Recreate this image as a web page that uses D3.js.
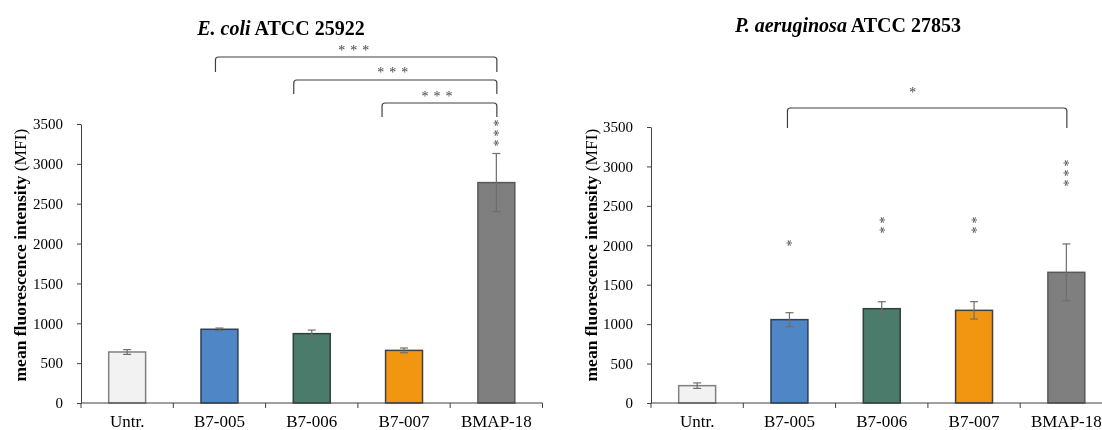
<!DOCTYPE html>
<html><head><meta charset="utf-8">
<script src="https://cdn.jsdelivr.net/npm/d3@7"></script>
<style>body{margin:0;background:#fff} svg{will-change:transform}</style>
</head><body><svg id="c" width="1102" height="430"></svg>
<script>
// ---- data ----
const categories = ["Untr.", "B7-005", "B7-006", "B7-007", "BMAP-18"];
const ecoliMean = [640, 925, 870, 660, 2765];
const ecoliErr  = [30, 15, 45, 30, 365];
const paeruMean = [220, 1057, 1196, 1175, 1657];
const paeruErr  = [35, 88, 88, 110, 360];
const yTicks = [0, 500, 1000, 1500, 2000, 2500, 3000, 3500];
const ecoliSig = ["", "", "", "", "***"];
const paeruSig = ["", "*", "**", "**", "***"];
const ecoliBrackets = [
  {from: "B7-005", to: "BMAP-18", label: "***"},
  {from: "B7-006", to: "BMAP-18", label: "***"},
  {from: "B7-007", to: "BMAP-18", label: "***"}
];
const paeruBrackets = [
  {from: "B7-005", to: "BMAP-18", label: "*"}
];
const barColors = ["#f2f2f2", "#4f86c6", "#4b7b6b", "#f29511", "#7f7f7f"];
const barStrokes = ["#808080", "#2f3f55", "#2f3f3a", "#404040", "#595959"];

// ---- layout ----
const FONT = "'Liberation Serif','Times New Roman',serif";
const svg = d3.select("#c");

const panels = [
  {title: ["E. coli", " ATCC 25922"], titleX: 281, titleY: 35,
   x0: 81, x1: 542.5, yTop: 124, yBot: 403, ylabX: 20,
   mean: ecoliMean, err: ecoliErr, sig: ecoliSig, sigTop: [0,0,0,0,123],
   brackets: ecoliBrackets,
   bLayout: [{dl: -4, top: 57, bot: 72, ly: 48}, {dl: -18, top: 80, bot: 94, ly: 70}, {dl: -22, top: 103, bot: 117, ly: 94}]},
  {title: ["P. aeruginosa", " ATCC 27853"], titleX: 848, titleY: 32,
   x0: 651, x1: 1112.5, yTop: 127, yBot: 403, ylabX: 591,
   mean: paeruMean, err: paeruErr, sig: paeruSig, sigTop: [0,243,220,220,163],
   brackets: paeruBrackets,
   bLayout: [{dl: -2, top: 108, bot: 128, ly: 90, lx: -12}]}
];

panels.forEach(p => {
  const g = svg.append("g");
  const x = d3.scaleBand().domain(categories).range([p.x0, p.x1]).paddingInner(0).paddingOuter(0);
  const y = d3.scaleLinear().domain([0, 3500]).range([p.yBot, p.yTop]);
  const bw = x.bandwidth();
  const barW = bw * 0.4;
  const cx = c => x(c) + bw / 2;

  // y axis
  const yAxis = d3.axisLeft(y).tickValues(yTicks).tickFormat(d3.format("d"))
    .tickSize(4).tickPadding(14).tickSizeOuter(0);
  const ya = g.append("g").attr("transform", `translate(${p.x0},0)`).call(yAxis);
  ya.select(".domain").attr("stroke", "#404040").attr("stroke-width", 1);
  ya.selectAll(".tick line").attr("stroke", "#404040");
  ya.selectAll(".tick text").attr("font-family", FONT).attr("font-size", 15).attr("fill", "#000");

  // bars
  g.selectAll("rect.bar").data(categories).enter().append("rect")
    .attr("x", c => cx(c) - barW / 2)
    .attr("y", (c, i) => y(p.mean[i]))
    .attr("width", barW)
    .attr("height", (c, i) => y(0) - y(p.mean[i]))
    .attr("fill", (c, i) => barColors[i])
    .attr("stroke", (c, i) => barStrokes[i])
    .attr("stroke-width", 1.5);

  // error bars
  const eb = g.selectAll("g.eb").data(categories).enter().append("g").attr("stroke", "#6e6e6e").attr("stroke-width", 1.2);
  eb.append("line").attr("x1", cx).attr("x2", cx)
    .attr("y1", (c, i) => y(p.mean[i] + p.err[i])).attr("y2", (c, i) => y(p.mean[i] - p.err[i]));
  eb.append("line").attr("x1", c => cx(c) - 4).attr("x2", c => cx(c) + 4)
    .attr("y1", (c, i) => y(p.mean[i] + p.err[i])).attr("y2", (c, i) => y(p.mean[i] + p.err[i]));
  eb.append("line").attr("x1", c => cx(c) - 4).attr("x2", c => cx(c) + 4)
    .attr("y1", (c, i) => y(p.mean[i] - p.err[i])).attr("y2", (c, i) => y(p.mean[i] - p.err[i]));

  // x axis
  g.append("line").attr("x1", p.x0).attr("x2", p.x1).attr("y1", p.yBot).attr("y2", p.yBot)
    .attr("stroke", "#404040").attr("stroke-width", 1);
  const bounds = categories.map(c => x(c)).concat([x(categories[categories.length - 1]) + bw]);
  g.selectAll("line.xt").data(bounds).enter().append("line")
    .attr("x1", d => d).attr("x2", d => d).attr("y1", p.yBot).attr("y2", p.yBot + 5)
    .attr("stroke", "#404040").attr("stroke-width", 1);
  g.selectAll("text.xl").data(categories).enter().append("text")
    .attr("x", cx).attr("y", p.yBot + 24).attr("text-anchor", "middle")
    .attr("font-family", FONT).attr("font-size", 17).attr("fill", "#000").text(c => c);

  // vertical significance stars (rotated text)
  categories.forEach((c, i) => {
    const s = p.sig[i];
    if (!s) return;
    g.append("text")
      .attr("transform", `translate(${cx(c)},${p.sigTop[i] - 3.5}) rotate(90)`)
      .attr("dy", "0.5em").attr("letter-spacing", "3px")
      .attr("font-family", FONT).attr("font-size", 14).attr("fill", "#444").text(s);
  });

  // brackets
  p.brackets.forEach((b, j) => {
    const L = p.bLayout[j];
    const xl = cx(b.from) + L.dl, xr = cx(b.to) + 0.5, r = 3;
    g.append("path")
      .attr("d", `M${xl},${L.bot} L${xl},${L.top + r} Q${xl},${L.top} ${xl + r},${L.top} L${xr - r},${L.top} Q${xr},${L.top} ${xr},${L.top + r} L${xr},${L.bot}`)
      .attr("fill", "none").attr("stroke", "#404040").attr("stroke-width", 1.2);
    g.append("text").attr("x", (xl + xr) / 2 + (L.lx || 0)).attr("y", L.ly).attr("dy", "0.5em")
      .attr("text-anchor", "middle").attr("letter-spacing", "5px")
      .attr("font-family", FONT).attr("font-size", 14).attr("fill", "#444").text(b.label);
  });

  // title
  const t = g.append("text").attr("x", p.titleX).attr("y", p.titleY).attr("text-anchor", "middle")
    .attr("font-family", FONT).attr("font-size", 20).attr("font-weight", "bold").attr("fill", "#000");
  t.append("tspan").attr("font-style", "italic").text(p.title[0]);
  t.append("tspan").text(p.title[1]);

  // y label
  const yl = g.append("text").attr("transform", `translate(${p.ylabX},255) rotate(-90)`)
    .attr("text-anchor", "middle").attr("dy", "0.35em")
    .attr("font-family", FONT).attr("font-size", 17.5).attr("fill", "#000");
  yl.append("tspan").attr("font-weight", "bold").text("mean fluorescence intensity ");
  yl.append("tspan").text("(MFI)");
});
</script></body></html>
